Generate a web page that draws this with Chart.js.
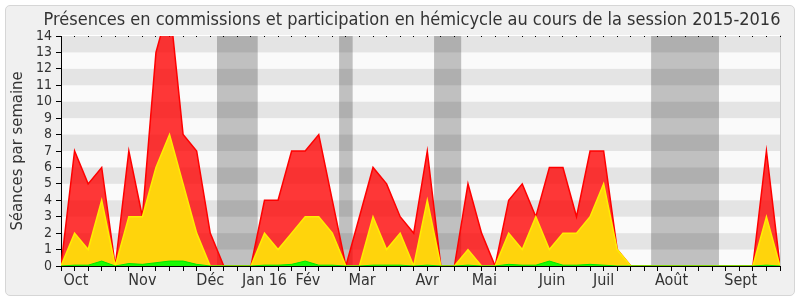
<!DOCTYPE html>
<html><head><meta charset="utf-8">
<script src="https://cdn.jsdelivr.net/npm/chart.js@4/dist/chart.umd.min.js"></script>
<style>
html,body{margin:0;padding:0;background:#fff;}
#box{position:absolute;left:5px;top:5px;width:788px;height:289px;border:1px solid #d6d6d6;border-radius:5px;background:#f0f0f0;}
#wrap{position:absolute;left:0;top:0;width:800px;height:300px;}
</style></head><body>
<div id="box"></div>
<div id="wrap"><canvas id="c" width="800" height="300"></canvas></div>
<script>
// Weekly values, session 2015-2016 (54 weeks)
const hemicycle = [0,7,5,6,0,7,3,13,16,8,7,2,0,0,0,4,4,7,7,8,4,0,3,6,5,3,2,7,0,0,5,2,0,4,5,3,6,6,3,7,7,1,0,0,0,0,0,0,0,0,0,0,7,0];
const commissions = [0,2,1,4,0,3,3,6,8,5,2,0,0,0,0,2,1,2,3,3,2,0,0,3,1,2,0,4,0,0,1,0,0,2,1,3,1,2,2,3,5,1,0,0,0,0,0,0,0,0,0,0,3,0];
const questions = [0,0.05,0.05,0.3,0,0.15,0.1,0.2,0.3,0.3,0.1,0,0,0,0,0.05,0.05,0.1,0.3,0.05,0.05,0,0,0.05,0.05,0.05,0,0.05,0,0,0.05,0,0,0.1,0.05,0.05,0.3,0.05,0.05,0.1,0.05,0,0,0,0,0,0,0,0,0,0,0,0.05,0];
const monthLabels = ['Oct','Nov','Déc','Jan 16','Fév','Mar','Avr','Mai','Juin','Juil','Août','Sept'];
const monthPos = [1.1,6,11,15,18.2,22.2,27,31.2,36.2,40,45,50.1];
const vacations = [[11.5,14.5],[20.5,21.5],[27.5,29.5],[43.5,48.5]];
const yTicks = [0,1,2,3,4,5,6,7,8,9,10,11,12,13,14];

const FONT = "'DejaVu Sans Condensed','DejaVu Sans',sans-serif";
const TXT = '#333';

const toPts = arr => arr.map((v, i) => ({x: i, y: v}));

const bgPlugin = {
  id: 'bg',
  beforeDraw(chart) {
    const {ctx, chartArea: a, scales: {x, y}} = chart;
    const w = a.right - a.left, h = a.bottom - a.top;
    ctx.save();
    ctx.fillStyle = '#fafafa';
    ctx.fillRect(a.left, a.top, w, h);
    ctx.fillStyle = '#c0c0c0';
    vacations.forEach(([s, e]) => {
      const x0 = x.getPixelForValue(s), x1 = x.getPixelForValue(e);
      ctx.fillRect(x0, a.top, x1 - x0, h);
    });
    ctx.fillStyle = 'rgba(0,0,0,0.085)';
    for (let v = 1; v < 14; v += 2) {
      const y0 = y.getPixelForValue(v + 1), y1 = y.getPixelForValue(v);
      ctx.fillRect(a.left, y0, w, y1 - y0);
    }
    ctx.fillStyle = '#ffffff';
    ctx.fillRect(a.left, a.top - 1, w, 1);
    ctx.fillStyle = '#cccccc';
    ctx.fillRect(a.right, a.top - 1, 1, h + 1);
    ctx.restore();
  }
};

new Chart(document.getElementById('c'), {
  type: 'line',
  data: {
    datasets: [
      {label: 'Questions', data: toPts(questions), xAxisID: 'x', yAxisID: 'y',
       borderColor: '#00e600', backgroundColor: 'rgba(0,255,0,0.9)', borderWidth: 1, fill: 'origin', pointRadius: 0, tension: 0},
      {label: 'Commissions', data: toPts(commissions), xAxisID: 'x', yAxisID: 'y',
       borderColor: '#ffee00', backgroundColor: 'rgb(255,212,12)', borderWidth: 1.5, fill: 'origin', pointRadius: 0, tension: 0},
      {label: 'Hémicycle', data: toPts(hemicycle), xAxisID: 'x', yAxisID: 'y',
       borderColor: '#ff0000', backgroundColor: 'rgba(255,0,0,0.78)', borderWidth: 1.5, fill: 'origin', pointRadius: 0, tension: 0}
    ]
  },
  options: {
    responsive: false,
    animation: false,
    devicePixelRatio: 1,
    layout: {padding: {left: 24, right: 0, top: 0, bottom: 0}},
    plugins: {
      legend: {display: false},
      tooltip: {enabled: false},
      title: {
        display: true,
        text: 'Présences en commissions et participation en hémicycle au cours de la session 2015-2016',
        font: {family: FONT, size: 18, weight: 'normal'},
        color: TXT,
        padding: {top: 10, bottom: 4.4}
      }
    },
    scales: {
      x: {
        type: 'linear', position: 'bottom', min: 0, max: hemicycle.length - 1, weight: 0,
        afterBuildTicks: s => { s.ticks = hemicycle.map((_, i) => ({value: i})); },
        afterFit: s => { s.height = 5; },
        ticks: {display: false, autoSkip: false},
        grid: {display: true, drawOnChartArea: true, color: '#000', lineWidth: 1, tickLength: 5, tickColor: '#000', tickWidth: 1},
        border: {display: true, color: '#000', width: 1, dash: [1, 400]}
      },
      xm: {
        type: 'linear', position: 'bottom', min: 0, max: hemicycle.length - 1, weight: 1,
        afterBuildTicks: s => { s.ticks = monthPos.map(v => ({value: v})); },
        afterFit: s => { s.height = 29; },
        ticks: {autoSkip: false, maxRotation: 0, minRotation: 0, padding: 0, color: TXT,
                font: {family: FONT, size: 16}, callback: (v, i) => monthLabels[i]},
        grid: {display: false, drawTicks: false},
        border: {display: false}
      },
      y: {
        type: 'linear', position: 'left', min: 0, max: 14,
        afterBuildTicks: s => { s.ticks = yTicks.map(v => ({value: v})); },
        afterFit: s => { s.width = 37; },
        ticks: {autoSkip: false, padding: 4, color: TXT, font: {family: FONT, size: 14}},
        grid: {drawOnChartArea: false, tickLength: 5, tickColor: '#000', color: '#000'},
        border: {display: true, color: '#000', width: 1},
        title: {display: true, text: 'Séances par semaine', color: TXT,
                font: {family: FONT, size: 16.5}, padding: {top: -16, bottom: 0}}
      },
      yr: {
        type: 'linear', position: 'right', display: true,
        afterFit: s => { s.width = 20; },
        ticks: {display: false}, grid: {display: false}, border: {display: false}
      }
    }
  },
  plugins: [bgPlugin]
});
</script>
</body></html>
